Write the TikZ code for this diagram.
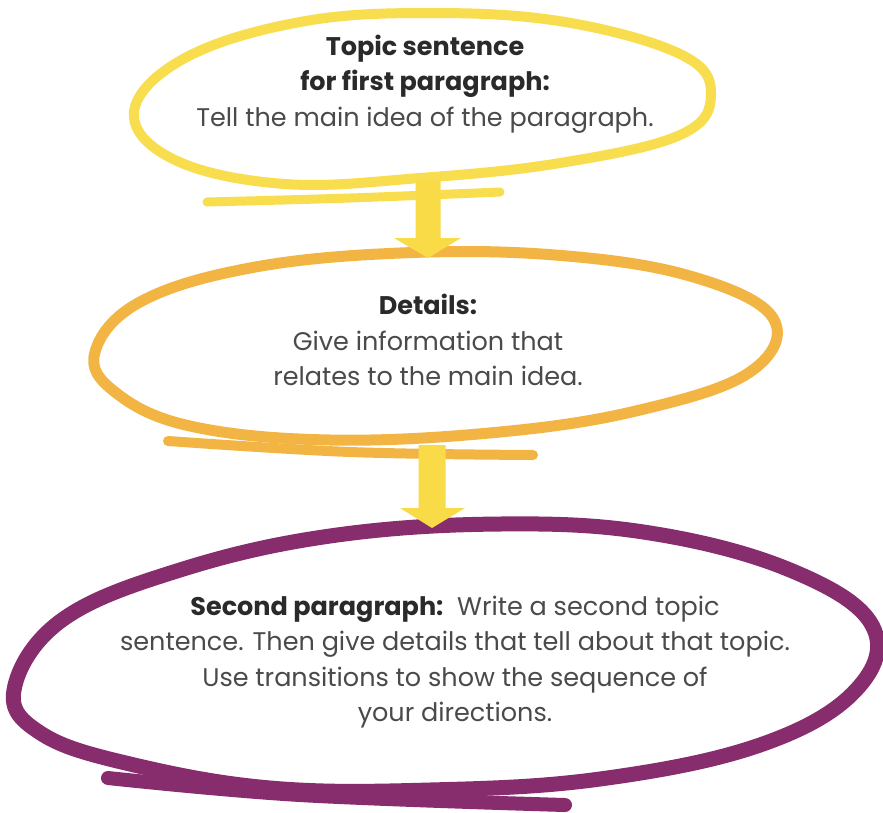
\documentclass[tikz,border=0pt]{standalone}
\usepackage{fontspec}
\setmainfont{Poppins}
\usetikzlibrary{calc}
\definecolor{loopyellow}{HTML}{F8DE4E}
\definecolor{looporange}{HTML}{F2B544}
\definecolor{looppurple}{HTML}{872C6C}
\definecolor{arrowyellow}{HTML}{F9DB47}
\definecolor{headtext}{HTML}{2A2A2A}
\definecolor{bodytext}{HTML}{4A4A4A}
\tikzset{
  loopline/.style={line width=#1, line cap=round, line join=round},
  blocktext/.style={align=center, text=bodytext, font=\fontsize{25.5}{35.5}\selectfont, inner sep=0pt},
  arrowfill/.style={fill=arrowyellow, draw=none},
}
\newcommand{\hd}[1]{{\bfseries\color{headtext}#1}}
\begin{document}
\begin{tikzpicture}[x=1pt,y=-1pt]
\useasboundingbox (0,0) rectangle (883,812);
\fill[white] (0,0) rectangle (883,812);

% top yellow loop
\draw[loopline=10pt, loopyellow] plot[smooth cycle, tension=0.65] coordinates {
  (134,112) (185,58) (300,22) (430,13) (565,22) (682,55) (711,95)
  (680,135) (560,163) (420,178) (285,184) (175,160)};
\draw[loopline=9pt, loopyellow] plot[smooth, tension=0.6] coordinates {(207,202) (350,198) (500,192)};

% middle orange loop
\draw[loopline=11pt, looporange] plot[smooth cycle, tension=0.65] coordinates {
  (95,352) (140,302) (250,268) (400,253) (555,255) (690,276) (773,318)
  (750,372) (640,410) (500,432) (330,440) (190,426) (115,392)};
\draw[loopline=10pt, looporange] plot[smooth, tension=0.6] coordinates {(168,441) (350,452) (533,455)};

% bottom purple loop
\draw[loopline=15pt, looppurple] plot[smooth cycle, tension=0.65] coordinates {
  (14,690) (62,620) (180,570) (330,536) (500,524) (650,533) (790,570)
  (872,625) (856,690) (760,745) (600,779) (430,790) (270,788) (130,764) (42,734)};
\draw[loopline=14pt, looppurple] plot[smooth, tension=0.6] coordinates {(108,778) (300,795) (565,805)};

% texts
\node[blocktext] (t1) at (425,84) {\hd{Topic sentence}\\ \hd{for first paragraph:}\\ Tell the main idea of the paragraph.};
\node[blocktext] (t2) at (428,340) {\hd{Details:}\\ Give information that\\ relates to the main idea.};
\node[blocktext] (t3) at (455,662) {\hd{Second paragraph:}\ \ Write a second topic\\ sentence. Then give details that tell about that topic.\\ Use transitions to show the sequence of\\ your\ directions.};

% arrows
\coordinate (a1s) at (428,180);
\coordinate (a1e) at (428,258);
\coordinate (a2s) at (432,445);
\coordinate (a2e) at (432,528);
\fill[arrowfill] ($(a1s)+(-12.5,0)$) -- ($(a1s)+(12.5,0)$) -- ($(a1e)+(12.5,-20)$) -- ($(a1e)+(33,-20)$)
  -- (a1e) -- ($(a1e)+(-34,-20)$) -- ($(a1e)+(-12.5,-20)$) -- cycle;
\fill[arrowfill] ($(a2s)+(-13.5,0)$) -- ($(a2s)+(13.5,0)$) -- ($(a2e)+(13.5,-20)$) -- ($(a2e)+(33,-20)$)
  -- (a2e) -- ($(a2e)+(-32,-20)$) -- ($(a2e)+(-13.5,-20)$) -- cycle;
\end{tikzpicture}
\end{document}
